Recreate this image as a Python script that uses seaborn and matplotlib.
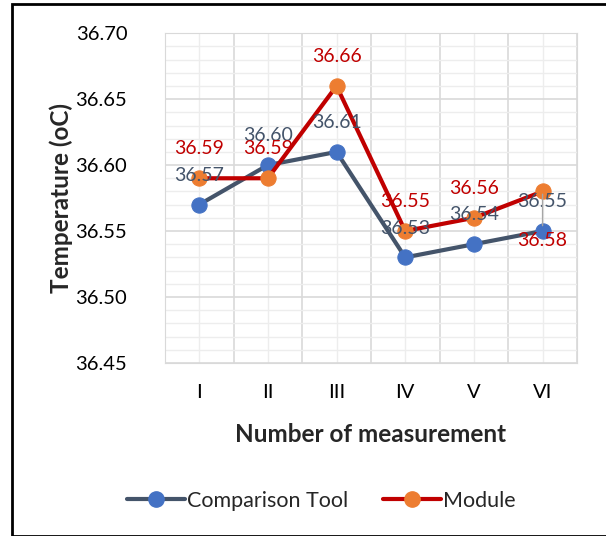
import matplotlib
matplotlib.use("Agg")
import matplotlib.pyplot as plt
import seaborn as sns
import pandas as pd
from matplotlib.lines import Line2D
from matplotlib.patches import Rectangle
from matplotlib.ticker import MultipleLocator

# data
measurements = ["I", "II", "III", "IV", "V", "VI"]
comparison_tool = [36.57, 36.60, 36.61, 36.53, 36.54, 36.55]
module = [36.59, 36.59, 36.66, 36.55, 36.56, 36.58]

sns.set_style("white")
plt.rcParams["font.family"] = ["Lato", "DejaVu Sans"]

df = pd.DataFrame({"pos": range(len(measurements)),
                   "Comparison Tool": comparison_tool,
                   "Module": module})

fig = plt.figure(figsize=(6.06, 5.36), dpi=100)
ax = fig.add_axes([0.272, 0.323, 0.68, 0.615])

# series styles (excel like)
styles = {
    "Comparison Tool": dict(line="#44546A", marker="#4472C4"),
    "Module": dict(line="#C00000", marker="#ED7D31"),
}

for name in ["Comparison Tool", "Module"]:
    st = styles[name]
    sns.lineplot(data=df, x="pos", y=name, ax=ax, color=st["line"], linewidth=3,
                 marker="o", markersize=11, markerfacecolor=st["marker"],
                 markeredgecolor=st["marker"], zorder=3)

# data labels
for i, v in enumerate(comparison_tool):
    ax.annotate(f"{v:.2f}", (i, v), xytext=(0, 15), textcoords="offset points",
                ha="center", va="bottom", fontsize=14, color="#44546A", zorder=4)
for i, v in enumerate(module):
    if i == len(module) - 1:
        ax.annotate(f"{v:.2f}", (i, v), xytext=(0, -29), textcoords="offset points",
                    ha="center", va="top", fontsize=14, color="#C00000", zorder=4,
                    arrowprops=dict(arrowstyle="-", color="#A6A6A6", lw=1))
    else:
        ax.annotate(f"{v:.2f}", (i, v), xytext=(0, 15), textcoords="offset points",
                    ha="center", va="bottom", fontsize=14, color="#C00000", zorder=4)

ax.set_xlim(-0.5, len(measurements) - 0.5)
ax.set_ylim(36.45, 36.70)
ax.yaxis.set_major_locator(MultipleLocator(0.05))
ax.yaxis.set_minor_locator(MultipleLocator(0.01))
ax.set_yticklabels([f"{t:.2f}" for t in ax.get_yticks()])
ax.set_xticks(range(len(measurements)))
ax.set_xticklabels(measurements)
ax.set_xticks([p - 0.5 for p in range(len(measurements) + 1)], minor=True)

ax.grid(which="major", axis="y", color="#D9D9D9", linewidth=1.2)
ax.grid(which="minor", axis="y", color="#EDEDED", linewidth=1)
ax.grid(which="minor", axis="x", color="#D9D9D9", linewidth=1.2)
ax.grid(which="major", axis="x", color="#EDEDED", linewidth=1)
ax.set_axisbelow(True)
for s in ax.spines.values():
    s.set_color("#D9D9D9")
ax.tick_params(axis="y", which="both", length=0, pad=27, labelsize=14.5, labelcolor="black")
ax.tick_params(axis="x", which="both", length=0, pad=15, labelsize=14.5, labelcolor="black")

ax.set_xlabel("Number of measurement", fontsize=17.5, fontweight="bold", labelpad=16)
ax.set_ylabel("Temperature (oC)", fontsize=17.5, fontweight="bold", labelpad=2)

handles = [Line2D([], [], color=styles[n]["line"], lw=3, marker="o", markersize=11,
                  markerfacecolor=styles[n]["marker"], markeredgecolor=styles[n]["marker"])
           for n in ["Comparison Tool", "Module"]]
fig.legend(handles, ["Comparison Tool", "Module"], loc="center", ncol=2,
           bbox_to_anchor=(0.53, 0.066), frameon=False, fontsize=15.5,
           handlelength=2.7, handletextpad=0.1, columnspacing=1.6)

# outer border of the chart
fig.patches.append(Rectangle((0.02, 0.0), 0.985, 0.993, transform=fig.transFigure,
                             fill=False, edgecolor="black", linewidth=2))

fig.savefig("out.png", dpi=100)
